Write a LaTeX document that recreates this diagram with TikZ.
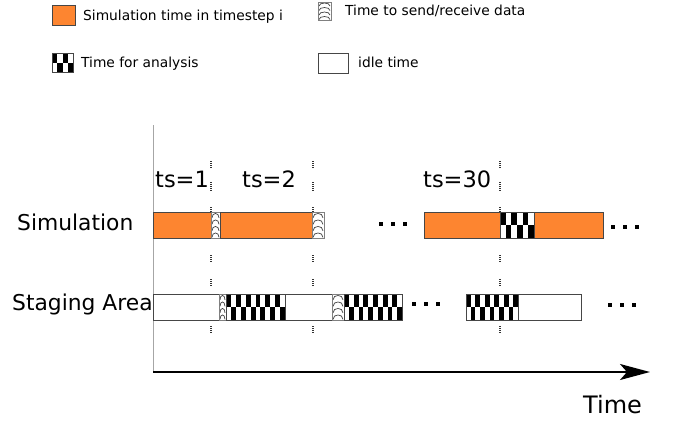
\documentclass[tikz,border=0pt]{standalone}
\usepackage{fontspec}
\setmainfont{DejaVu Sans}
\usetikzlibrary{arrows.meta}
\definecolor{simorange}{RGB}{253,133,48}
\definecolor{edgegray}{RGB}{70,70,70}

% checkerboard bar: x1, y1, x2, y2, number of columns
\newcommand{\checkbar}[5]{%
  \begin{scope}
    \clip (#1,#2) rectangle (#3,#4);
    \fill[white] (#1,#2) rectangle (#3,#4);
    \pgfmathsetmacro\cw{(#3-#1)/#5}
    \pgfmathsetmacro\ch{(#4-#2)/2}
    \foreach \i in {1,...,#5}{%
      \pgfmathsetmacro\xa{#1+(\i-1)*\cw}
      \ifodd\i
        \fill[black] (\xa,#2) rectangle ++(\cw,\ch);
      \else
        \fill[black] (\xa,#2+\ch) rectangle ++(\cw,\ch);
      \fi
    }
  \end{scope}
  \draw[bar] (#1,#2) rectangle (#3,#4);
}

% send/receive bar: stacked arcs, x1, y1, x2, y2
\newcommand{\sendbar}[4]{%
  \fill[white] (#1,#2) rectangle (#3,#4);
  \pgfmathsetmacro\sh{(#4-#2)/4}
  \foreach \k in {0,...,3}{%
    \pgfmathsetmacro\ya{#2+(\k+0.9)*\sh}
    \draw[black!75,line width=0.7pt] (#1+1,\ya) .. controls (#1+1,\ya-0.9*\sh) and (#3-1,\ya-0.9*\sh) .. (#3-1,\ya);
  }
  \draw[bar,draw=gray] (#1,#2) rectangle (#3,#4);
}

% three square dots, first dot centre x, centre y
\newcommand{\threedots}[2]{%
  \foreach \dd in {0,12,24}{%
    \fill[black] (#1+\dd-2,#2-2) rectangle ++(4,4);
  }
}

% dotted time markers at one x position
\newcommand{\markcol}[1]{%
  \foreach \ya/\yb in {161/168,182/192,207/212,255/263,279/287,326/333}{%
    \draw[marker] (#1,\ya) -- (#1,\yb);
  }
}

\begin{document}
\begin{tikzpicture}[x=1pt,y=-1pt,
  bar/.style={draw=edgegray,line width=0.9pt},
  simbar/.style={bar,fill=simorange},
  idlebar/.style={bar,fill=white},
  rowlbl/.style={font=\fontsize{21.8}{25}\selectfont,inner sep=0pt,anchor=base west},
  tslbl/.style={font=\fontsize{22.5}{26}\selectfont,inner sep=0pt,anchor=base west},
  legtxt/.style={font=\fontsize{13.8}{16}\selectfont,inner sep=0pt,anchor=base west},
  marker/.style={line width=1.3pt,dash pattern=on 1pt off 1pt,black!80},
  ]
\useasboundingbox (0,0) rectangle (680,421);

% legend
\draw[simbar] (52,5) rectangle (75,25);
\node[legtxt] (legsim) at (83,20) {Simulation time in timestep i};
\sendbar{318}{2}{331}{20}
\node[legtxt] (legsend) at (345,15) {Time to send/receive data};
\checkbar{52}{53}{73}{72}{4}
\node[legtxt] (legana) at (81,67) {Time for analysis};
\draw[idlebar] (318,53) rectangle (348,73);
\node[legtxt] (legidle) at (358,67) {idle time};

% axes
\coordinate (origin) at (153,372);
\coordinate (ytop) at (153,125);
\coordinate (xend) at (650,372);
\draw[gray!70,line width=0.9pt] (ytop) -- (origin);
\draw[line width=1.8pt,-{Stealth[length=30pt,width=16pt,inset=7pt]}] (origin) -- (xend);
\node[font=\fontsize{24}{28}\selectfont,inner sep=0pt,anchor=base west] (timelbl) at (583,413) {Time};

% row labels
\node[rowlbl] (simlbl) at (17,230) {Simulation};
\node[rowlbl] (stglbl) at (12,310) {Staging Area};

% timestep labels
\node[tslbl] (ts1) at (155,187) {ts=1};
\node[tslbl] (ts2) at (242,187) {ts=2};
\node[tslbl] (ts30) at (423,187) {ts=30};

% timestep markers
\markcol{211}
\markcol{313}
\markcol{500}

% simulation row
\draw[simbar] (153,212) rectangle (211,238);
\sendbar{211}{212}{220}{238}
\draw[simbar] (220,212) rectangle (312,238);
\sendbar{312}{212}{324}{238}
\threedots{381}{224}
\draw[simbar] (424,212) rectangle (500,238);
\checkbar{500}{212}{534}{238}{6}
\draw[simbar] (534,212) rectangle (603,238);
\threedots{613}{227}

% staging area row
\draw[idlebar] (153,294) rectangle (219,320);
\sendbar{219}{294}{226}{320}
\checkbar{226}{294}{285}{320}{12}
\draw[idlebar] (285,294) rectangle (332,320);
\sendbar{332}{294}{344}{320}
\checkbar{344}{294}{402}{320}{12}
\threedots{414}{304}
\checkbar{466}{294}{518}{320}{11}
\draw[idlebar] (518,294) rectangle (581,320);
\threedots{610}{305}
\end{tikzpicture}
\end{document}
